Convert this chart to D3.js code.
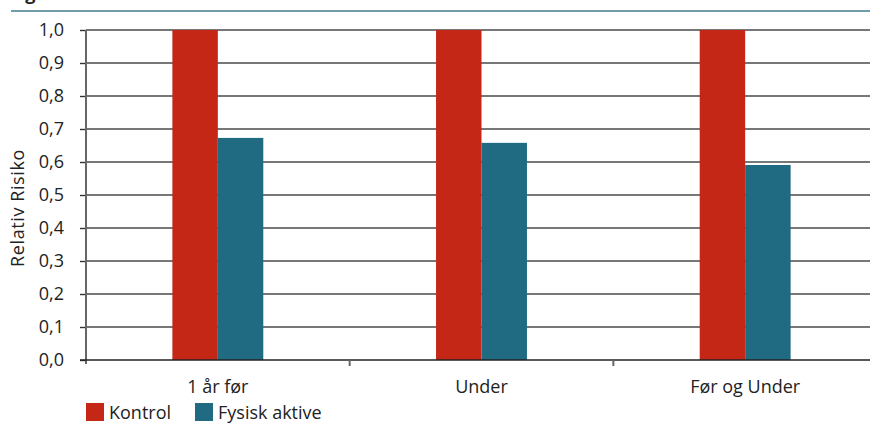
<!DOCTYPE html>
<html><head><meta charset="utf-8">
<script src="https://cdn.jsdelivr.net/npm/d3@7"></script>
<style>body{margin:0;background:#fff}svg{display:block}text{font-family:"Open Sans",Lato,sans-serif;fill:#222}</style>
</head><body><svg id="c" width="870" height="425"></svg>
<script>
const categories = ["1 år før", "Under", "Før og Under"];
const seriesNames = ["Kontrol", "Fysisk aktive"];
const kontrol = [1.0, 1.0, 1.0];
const fysiskAktive = [0.673, 0.658, 0.591];
const yTicks = [0,0.1,0.2,0.3,0.4,0.5,0.6,0.7,0.8,0.9,1.0];
const colors = ["#c42716", "#216b82"];

const svg = d3.select("#c");
const mLeft = 86, mRight = 877, mTop = 30, mBottom = 360;
const x = d3.scaleBand().domain(categories).range([mLeft, mRight]).padding(0);
const xs = d3.scaleBand().domain(seriesNames).range([0, x.bandwidth()]).paddingInner(0).paddingOuter(1.9);
const y = d3.scaleLinear().domain([0, 1]).range([mBottom, mTop]);
const fmt = d => d3.format(".1f")(d).replace(".", ",");

// title remnant and rule
svg.append("text").attr("x", 10).attr("y", 0).style("font-size","18px").style("font-weight","bold").text("Figur")
  .append("tspan").style("font-weight","normal").style("fill","#999").text(" 4.6");
svg.append("line").attr("x1", 11).attr("x2", 870).attr("y1", 11).attr("y2", 11).attr("stroke", "#6f9dac").attr("stroke-width", 2);

// gridlines
svg.append("g").selectAll("line").data(yTicks.filter(d => d > 0)).join("line")
  .attr("x1", mLeft).attr("x2", mRight).attr("y1", d => y(d)).attr("y2", d => y(d))
  .attr("stroke", "#4a4a4a").attr("stroke-width", 1.4);

// bars
const data = categories.map((c, i) => ({c, vals: [kontrol[i], fysiskAktive[i]]}));
const g = svg.append("g");
data.forEach(d => {
  d.vals.forEach((v, j) => {
    g.append("rect").attr("x", x(d.c) + xs(seriesNames[j])).attr("width", xs.bandwidth())
      .attr("y", y(v)).attr("height", y(0) - y(v)).attr("fill", colors[j]);
  });
});

// y axis
const ya = svg.append("g").attr("transform", `translate(${mLeft},0)`)
  .call(d3.axisLeft(y).tickValues(yTicks).tickFormat(fmt).tickSize(6).tickPadding(16));
ya.select(".domain").remove();
ya.selectAll(".tick line").attr("stroke", "#333").attr("stroke-width", 1.4);
ya.selectAll(".tick text").style("font-size", "18px").attr("fill", "#333").attr("font-family", null);
svg.append("line").attr("x1", mLeft).attr("x2", mLeft).attr("y1", mTop).attr("y2", mBottom + 4)
  .attr("stroke", "#666").attr("stroke-width", 2);

// x axis
svg.append("line").attr("x1", mLeft - 6).attr("x2", mRight).attr("y1", mBottom).attr("y2", mBottom)
  .attr("stroke", "#222").attr("stroke-width", 1.6);
svg.append("g").selectAll("line").data(categories.slice(1)).join("line")
  .attr("x1", d => x(d)).attr("x2", d => x(d)).attr("y1", mBottom).attr("y2", mBottom + 6)
  .attr("stroke", "#666").attr("stroke-width", 2);
svg.append("g").selectAll("text").data(categories).join("text")
  .attr("x", d => x(d) + x.bandwidth() / 2).attr("y", 393).attr("text-anchor", "middle")
  .style("font-size", "18px").attr("fill", "#333").text(d => d);

// y label
svg.append("text").attr("transform", `translate(24,208) rotate(-90)`)
  .attr("text-anchor", "middle").style("font-size", "18px").style("letter-spacing", "0.6px")
  .attr("fill", "#333").text("Relativ Risiko");

// legend
const lg = svg.append("g");
const lx = [86, 195];
seriesNames.forEach((s, j) => {
  lg.append("rect").attr("x", lx[j]).attr("y", 403).attr("width", 18).attr("height", 18).attr("fill", colors[j]);
  lg.append("text").attr("x", lx[j] + 23).attr("y", 419).style("font-size", "18px").attr("fill", "#333").text(s);
});
</script></body></html>
